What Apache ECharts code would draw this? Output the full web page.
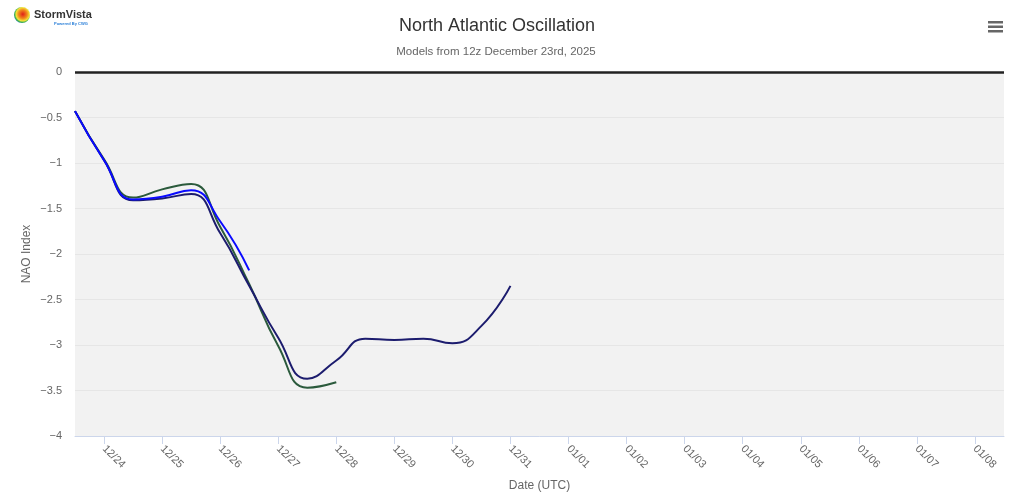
<!DOCTYPE html>
<html>
<head>
<meta charset="utf-8">
<script src="https://cdn.jsdelivr.net/npm/echarts@6/dist/echarts.min.js"></script>
<style>
html,body{margin:0;padding:0;background:#fff;}
#chart{width:1024px;height:495px;}
</style>
</head>
<body>
<div id="chart"></div>
<script>
// hours since 12z December 23rd, 2025
const hours = [0, 12, 24, 36, 48, 60, 72, 84, 96, 108, 120, 132, 144, 156, 168, 180];
const navyValues  = [-0.43, -0.97, -1.41, -1.39, -1.34, -1.77, -2.35, -2.92, -3.37, -3.17, -2.93, -2.945, -2.93, -2.98, -2.79, -2.35];
const greenValues = [-0.43, -0.96, -1.38, -1.29, -1.23, -1.70, -2.33, -3.01, -3.47, -3.41];
const blueValues  = [-0.43, -0.97, -1.40, -1.37, -1.30, -1.64, -2.18];
const tickLabels = ['12/24','12/25','12/26','12/27','12/28','12/29','12/30','12/31','01/01','01/02','01/03','01/04','01/05','01/06','01/07','01/08'];
const tickHours = tickLabels.map((_, i) => 12 + 24 * i);
const axisMin = 0, axisMax = 384;
const zeroLine = 0;

function pairs(vals) { return vals.map((v, i) => [hours[i], v]); }

const chart = echarts.init(document.getElementById('chart'));
const font = 'Liberation Sans, Arial, sans-serif';
const lineBase = { type: 'line', smooth: 0.5, showSymbol: false, symbol: 'none' };

chart.setOption({
  backgroundColor: '#ffffff',
  animation: false,
  title: [{
    text: 'North Atlantic Oscillation',
    left: 492, top: 12, textAlign: 'center',
    textStyle: { fontSize: 18, fontWeight: 'normal', color: '#333333', fontFamily: font }
  }, {
    text: 'Models from 12z December 23rd, 2025',
    left: 491, top: 41, textAlign: 'center',
    textStyle: { fontSize: 11.5, fontWeight: 'normal', color: '#666666', fontFamily: font }
  }],
  grid: {
    left: 75, right: 20, top: 72, bottom: 59,
    outerBoundsMode: 'none', containLabel: false,
    show: true, backgroundColor: '#f2f2f2', borderWidth: 0
  },
  xAxis: {
    type: 'value', min: axisMin, max: axisMax,
    name: 'Date (UTC)', nameLocation: 'middle', nameGap: 44,
    nameTextStyle: { color: '#666666', fontSize: 12, fontFamily: font },
    axisLine: { show: true, onZero: false, lineStyle: { color: '#ccd6eb', width: 1 } },
    axisTick: { show: true, length: 8, lineStyle: { color: '#ccd6eb' }, customValues: tickHours },
    axisLabel: {
      customValues: tickHours, rotate: -45, margin: 11,
      color: '#666666', fontSize: 11, fontFamily: font,
      formatter: v => { const i = tickHours.indexOf(v); return i >= 0 ? tickLabels[i] : ''; }
    },
    splitLine: { show: false }
  },
  yAxis: {
    type: 'value', min: -4, max: 0, interval: 0.5,
    name: 'NAO Index', nameLocation: 'middle', nameGap: 42, nameRotate: 90,
    nameMoveOverlap: false,
    nameTextStyle: { color: '#666666', fontSize: 12, fontFamily: font },
    axisLine: { show: false }, axisTick: { show: false },
    axisLabel: {
      color: '#666666', fontSize: 11, fontFamily: font, margin: 13,
      formatter: v => (v < 0 ? '\u2212' + Math.abs(v) : String(v))
    },
    splitLine: { show: true, lineStyle: { color: '#e6e6e6', width: 1 } }
  },
  series: [
    Object.assign({}, lineBase, {
      name: 'Model A', data: pairs(navyValues), z: 3,
      lineStyle: { color: '#1c1c6e', width: 2 }, itemStyle: { color: '#1c1c6e' },
      markLine: {
        silent: true, symbol: ['none', 'none'], label: { show: false },
        lineStyle: { color: '#222222', width: 2.5, type: 'solid' },
        data: [{ yAxis: zeroLine }]
      }
    }),
    Object.assign({}, lineBase, {
      name: 'Model B', data: pairs(greenValues), z: 2,
      lineStyle: { color: '#2b5a3c', width: 2 }, itemStyle: { color: '#2b5a3c' }
    }),
    Object.assign({}, lineBase, {
      name: 'Model C', data: pairs(blueValues), z: 4,
      lineStyle: { color: '#0a0aff', width: 2 }, itemStyle: { color: '#0a0aff' }
    })
  ],
  graphic: [
    {
      type: 'circle', left: 14, top: 7, shape: { r: 8 },
      style: {
        fill: new echarts.graphic.RadialGradient(0.55, 0.45, 0.6, [
          { offset: 0, color: '#e0201a' },
          { offset: 0.45, color: '#f08a1c' },
          { offset: 0.7, color: '#f4e23a' },
          { offset: 0.85, color: '#3cb34a' },
          { offset: 1, color: '#2a6fd0' }
        ])
      }
    },
    {
      type: 'text', left: 34, top: 9,
      style: { text: 'StormVista', fill: '#333333', font: 'bold 11px ' + font }
    },
    {
      type: 'text', left: 54, top: 22,
      style: { text: 'Powered By CWG', fill: '#2a7fd8', font: 'bold 4px ' + font }
    },
    { type: 'rect', left: 988, top: 21, shape: { width: 15, height: 2.5 }, style: { fill: '#666666' } },
    { type: 'rect', left: 988, top: 25.5, shape: { width: 15, height: 2.5 }, style: { fill: '#666666' } },
    { type: 'rect', left: 988, top: 30, shape: { width: 15, height: 2.5 }, style: { fill: '#666666' } }
  ]
});
</script>
</body>
</html>
